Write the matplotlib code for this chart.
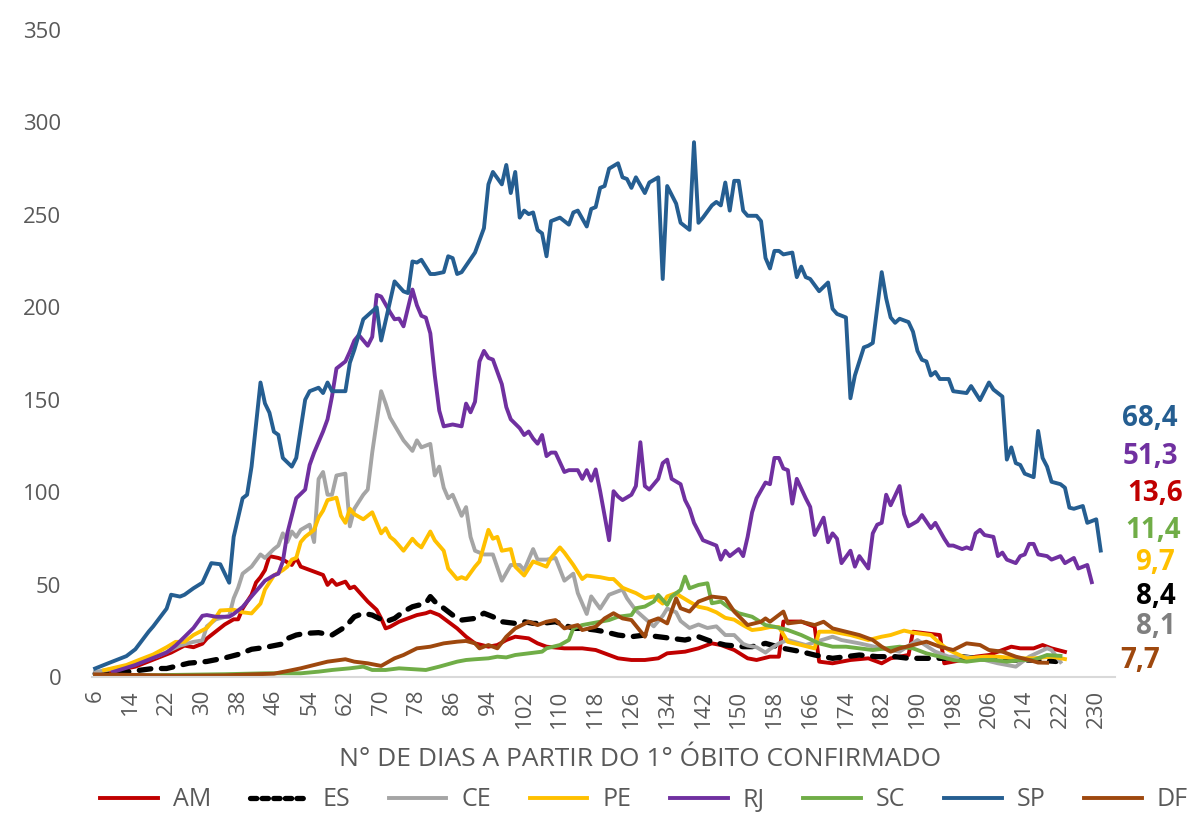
import numpy as np
import matplotlib
matplotlib.use("Agg")
import matplotlib.pyplot as plt
from matplotlib.lines import Line2D

plt.rcParams['font.family'] = ['Open Sans', 'DejaVu Sans']

# (dia, media movel de obitos)
am = [(9,2.7),(15,5.6),(19,9.4),(23,13.2),(26,17),(28,16.1),(30,18),(31,20.8),(33,24.6),(35,28.4),(37,31.2),(38,31.2),
      (39,37),(41,44.5),(42,51.1),(43,54),(44,57.8),(45,65.4),(47,64.4),(48,63.5),(50,60.6),(51,64.4),(52,59.7),(55,57),
      (57,55.2),(58,49.8),(59,52.5),(60,49.8),(62,51.6),(63,48),(64,48.9),(66,43.5),(67,40.8),(69,36.3),(70,31.7),(71,26.3),
      (72,27.2),(74,29.9),(76,31.7),(78,33.5),(80,34.5),(81,35.4),(83,33.5),(85,29.9),(87,26.3),(89,21.8),(91,18.2),(94,16.4),
      (96,17.3),(98,20),(100,21.8),(103,20.9),(105,18.2),(107,16.4),(111,15.5),(115,15.5),(118,14.6),(121,11.9),(123,10.1),
      (126,9.2),(129,9.2),(132,10.1),(134,12.8),(138,13.7),(141,15.5),(144,18.2),(146,17.3),(149,14.6),(152,10.1),(154,9.2),
      (157,11),(159,11),(160,30),(164,30),(167,27.2),(168,8.3),(171,7.4),(175,9.2),(179,10.1),(182,7.4),(184,10.1),(186,11),
      (188,11.9),(189,24.5),(192,23.6),(195,22.7),(196,7.4),(200,9.2),(203,11),(206,11.9),(208,13.7),(211,16.4),(213,15.5),
      (216,15.5),(218,17.3),(220,15.5),(223,13.6)]

es = [(6,1.8),(13,2.7),(19,4.6),(22,4.6),(27,7.5),(31,8.4),(35,10.3),(38,12.2),(41,15),(44,16),(48,17.9),(49,20.8),(51,22.7),
      (53,23.6),(56,24),(59,22.7),(62,27.2),(64,32.6),(66,34.5),(68,33.5),(71,29.9),(73,31.7),(75,35.4),(77,38),(80,39.9),
      (81,43.5),(82,40.8),(84,37.2),(86,33.5),(88,30.8),(91,31.7),(93,34.5),(95,32.6),(97,29.9),(100,29),(102,29.9),(104,29),
      (106,29),(109,29.9),(111,28.1),(113,26.3),(115,26.3),(118,25.4),(120,24.5),(123,22.7),(126,21.8),(129,22.7),(132,21.8),
      (135,20.9),(138,20),(141,21.8),(144,19.1),(147,17.3),(151,16.4),(153,16.4),(156,18.2),(160,15.5),(164,13.7),(167,11.9),
      (171,10.1),(174,11),(177,11.9),(181,11),(185,11),(188,10.1),(192,10.1),(196,10.1),(200,11),(203,10.1),(207,10.1),
      (211,9.2),(214,9.2),(218,9),(221,8.4)]

ce = [(6,2.7),(13,5.6),(16,8.4),(20,11.3),(25,17),(28,19),(30,19.8),(31,27.4),(33,31.2),(36,33.1),(37,42.6),(38,48.3),
      (39,55.9),(41,59.7),(43,66.3),(44,64.4),(46,69.2),(47,71.1),(48,77.7),(49,73),(50,78.7),(51,75.8),(52,79.6),(54,82.4),
      (55,73),(56,107.1),(57,110.9),(58,98.6),(59,98.6),(60,109),(62,110),(63,81.5),(64,91),(66,98.6),(67,101.4),(68,121.4),
      (70,154.6),(71,147.9),(72,140.3),(75,128),(77,122.3),(78,128),(79,124.2),(81,126.1),(82,109),(83,113.8),(84,102.4),
      (85,96.7),(86,98.6),(88,87.2),(89,91.9),(90,75.8),(91,68.3),(93,66.3),(95,66.3),(97,52.1),(99,60.6),(101,60.6),
      (102,57.8),(104,69.2),(105,63.5),(107,63.5),(109,64.4),(111,52.1),(113,55.9),(114,45.4),(116,34.1),(117,43.6),(119,37),
      (121,44.5),(124,47.3),(125,42.6),(127,36),(131,27.4),(133,33.1),(134,37),(136,35),(137,30.3),(139,26.5),(141,28.4),
      (143,26.5),(145,27.4),(147,22.7),(149,22.7),(151,17.9),(152,17),(154,16.1),(156,13.2),(157,15.1),(159,18.2),(161,20),
      (165,17.3),(171,21.8),(173,20),(177,18.2),(182,15.5),(186,13.7),(190,20),(194,13.7),(197,11),(201,11),(205,9.2),
      (208,7.4),(212,5.6),(215,11),(219,15.5),(220,14.6),(222,8.1)]

pe = [(8,3.7),(13,6.5),(16,9.4),(19,12.2),(22,16.1),(24,19),(26,19),(28,22.7),(31,26.5),(33,32.2),(34,36),(37,36.4),
      (39,35),(41,34.4),(43,39.7),(44,47.3),(46,54.9),(48,57.8),(49,59.7),(50,63.5),(51,64.4),(52,73),(53,75.8),(55,79.6),
      (56,86.2),(57,90),(58,95.7),(60,97),(61,87.2),(62,83.4),(63,91),(64,88.1),(66,85.3),(68,89.1),(70,77.7),(71,80.5),
      (72,75.8),(73,73.9),(75,68.3),(77,74.8),(78,72),(79,70.1),(81,78.7),(82,73.9),(84,68.3),(85,58.7),(87,53),(88,54),
      (89,53),(91,59.7),(92,62.5),(94,79.6),(95,74.8),(96,75.8),(97,68.3),(99,69.2),(100,59.7),(102,54.9),(104,62.5),
      (107,59.7),(108,64.4),(110,70.1),(111,67.3),(113,60.6),(115,53),(116,54.9),(119,54),(121,53),(122,53),(124,48.3),
      (125,47.3),(127,45.4),(129,42.6),(131,43.6),(133,39.7),(134,43.6),(136,45.4),(137,43.6),(139,40.7),(141,38),(143,37),
      (145,35),(147,32),(149,31),(151,28),(153,25.4),(155,26),(157,27),(159,27),(161,19),(164,17.3),(167,15.5),(168,24.5),
      (171,24.5),(175,22.7),(179,20),(182,21.8),(184,22.7),(187,25.1),(189,24),(193,22.7),(195,18.2),(197,14.6),(201,10.1),
      (205,11),(208,11),(212,10.1),(216,10.1),(220,11),(223,9.7)]

rj = [(10,2.7),(15,6.5),(19,10.3),(22,13.2),(24,17),(26,21.7),(28,26.5),(30,33.1),(31,33.5),(33,32.6),(36,32.6),(37,34.1),
      (39,37.9),(41,43.6),(43,49.2),(44,52.1),(46,55),(47,55.9),(48,62.5),(49,77.7),(51,96.7),(53,101.4),(54,114.7),
      (55,121.4),(57,132.8),(58,139.4),(59,151.8),(60,166.9),(62,170.7),(63,176),(64,182),(65,185),(67,179.2),(68,184),
      (69,206.7),(70,205.8),(72,197.3),(73,193.5),(74,193.9),(75,189.7),(77,209.6),(78,201.1),(79,195.4),(80,194.4),
      (81,185.9),(82,163.1),(83,144.1),(84,135.6),(86,136.6),(88,135.6),(89,147.9),(90,143.2),(91,148.9),(92,170.7),
      (93,176.4),(94,172.6),(95,171.7),(97,158.4),(98,146),(99,139.4),(101,134.6),(102,130.9),(103,132.8),(104,129),
      (105,126.2),(106,130.9),(107,119.5),(108,121.4),(109,121.4),(111,110.9),(112,111.9),(114,111.9),(115,107.2),(116,111.9),
      (117,106.2),(118,112.3),(119,100.5),(121,74),(122,100.5),(123,97.6),(124,95.7),(126,98.6),(127,103.3),(128,127),
      (129,103.3),(130,101.4),(132,107.2),(133,115.7),(134,117.6),(135,107.2),(137,104.3),(138,95.7),(139,91),(140,83.4),
      (142,74),(145,71.1),(146,63.5),(147,68.3),(148,65.4),(150,69.2),(151,65.4),(152,75.8),(153,89.1),(154,96.7),(156,105.2),
      (157,104.3),(158,118.5),(159,118.5),(160,112.8),(161,111.9),(162,93.8),(163,107.2),(165,96.7),(166,92),(167,76.8),
      (169,86.2),(170,72.9),(171,77.7),(172,74.8),(173,61.6),(175,68.3),(176,59.7),(177,65.4),(179,58.7),(180,77.7),
      (181,82.4),(182,83.4),(183,98.6),(184,92.9),(186,103.3),(187,88.1),(188,81.5),(190,84.3),(191,87.6),(193,80.5),
      (194,83.4),(196,74.8),(197,71.1),(198,71.1),(200,69.2),(201,70.1),(202,69.2),(203,77.7),(204,79.6),(205,76.8),
      (207,75.8),(208,65.4),(209,67.3),(210,63.5),(212,61.6),(213,65.4),(214,66.3),(215,72),(216,72),(217,66.3),(219,65.4),
      (220,63.5),(222,65.4),(223,61.6),(225,64.4),(226,58.7),(228,60.6),(229,51.3)]

sc = [(6,0.8),(20,1),(35,1.5),(44,2),(52,2),(56,2.9),(59,3.8),(63,4.7),(66,5.6),(68,3.8),(71,3.8),(74,4.7),(78,4.1),
      (80,3.8),(83,5.6),(87,8.3),(89,9.2),(91,9.6),(94,10.1),(96,11),(98,10.6),(100,11.9),(103,12.8),(106,13.7),(107,15.5),
      (110,17.3),(112,20),(113,26.3),(115,28.1),(117,29),(119,29.9),(121,30.8),(123,32.6),(126,33.5),(127,37.2),(129,38.1),
      (131,40.8),(132,44.4),(134,39),(135,43.5),(137,47.1),(138,54.3),(139,48),(141,49.8),(143,50.7),(144,39.9),(146,40.8),
      (148,37.2),(150,34.5),(153,32.6),(156,28.1),(158,27.2),(161,25.4),(164,22.7),(168,18.2),(171,16.4),(174,16.4),
      (177,15.5),(180,14.6),(183,15.5),(186,16.4),(189,15.5),(192,12.8),(195,11),(198,9.2),(201,8.3),(204,9.2),(207,9.2),
      (210,8.3),(213,9.2),(216,9.2),(219,11.9),(222,11.4)]

sp = [(6,4.6),(9,7.5),(13,11.3),(15,15),(18,24.6),(19,27.4),(22,37),(23,44.5),(25,43.5),(26,44.5),(28,48),(30,51),
      (32,61.6),(34,61),(36,51),(37,75.8),(39,96.7),(40,98.6),(41,113.8),(43,159.3),(44,148),(45,143),(46,132.7),(47,131),
      (48,118.5),(50,113.8),(51,118.5),(53,150),(54,154.6),(56,156.5),(57,153.6),(58,159.3),(59,154.6),(62,154.6),(63,170),
      (64,177),(66,193.5),(69,200),(70,182),(73,214),(75,208.6),(76,207.7),(77,224.8),(78,224.2),(79,225.7),(81,218),
      (82,218),(84,219),(85,227.6),(86,226.6),(87,218),(88,219),(91,229.6),(93,242.8),(94,266.5),(95,273.2),(97,266.5),
      (98,277),(99,261.8),(100,273.2),(101,248.5),(102,252.3),(103,250.4),(104,251.3),(105,241.8),(106,240),(107,227.6),
      (108,246.6),(110,248.5),(112,244.7),(113,251.3),(114,252.3),(116,243.7),(117,253.2),(118,254.2),(119,264.6),
      (120,265.6),(121,275),(123,277.9),(124,270.3),(125,269.4),(126,264.6),(127,270.3),(129,261.8),(130,267.5),(132,270.3),
      (133,215.3),(134,265.6),(136,256.1),(137,245.7),(139,241.9),(140,289.3),(141,245.7),(142,248.5),(144,255.1),(145,257),
      (146,255.1),(147,267.5),(148,252.3),(149,268.4),(150,268.4),(151,252.3),(152,249.5),(154,249.5),(155,246.6),
      (156,226.7),(157,221),(158,230.5),(159,230.5),(160,228.6),(162,229.6),(163,216.3),(164,222),(165,216.3),(166,215.3),
      (168,208.7),(170,213.4),(171,199.2),(172,196.4),(174,194.5),(175,150.8),(176,163.1),(178,178.3),(179,179.2),
      (180,180.7),(182,219),(183,204.8),(184,194.5),(185,191.6),(186,193.8),(188,192),(189,186.8),(190,176.4),(191,171.6),
      (192,170.7),(193,163.1),(194,165),(195,161.2),(197,161.2),(198,154.6),(201,153.6),(202,157.4),(204,149.8),(206,159.3),
      (207,155.5),(209,151.7),(210,117.6),(211,124.2),(212,115.7),(213,114.7),(214,110),(216,108.1),(217,133.1),(218,118.5),
      (219,113.8),(220,105.6),(222,104.3),(223,102.4),(224,91.6),(225,91),(227,92.5),(228,83.4),(230,85.3),(231,68.4)]

df = [(6,1.4),(13,1.2),(24,0.7),(35,0.9),(46,1.8),(50,3.7),(52,4.7),(55,6.5),(58,8.3),(62,9.6),(64,8.3),(67,7.4),(70,6),
      (73,10.1),(75,11.9),(78,15.5),(81,16.4),(84,18.2),(87,19.1),(89,19.5),(91,18.2),(92,15.5),(94,17.3),(96,15.5),
      (98,21.8),(100,26.3),(103,29.9),(105,28.1),(107,29.9),(109,30.8),(111,26.3),(114,28.1),(115,25.4),(118,27.2),
      (120,31.7),(122,34.5),(124,31.7),(126,30.8),(129,21.8),(130,29.9),(132,31.7),(134,29),(136,42.6),(137,37.2),
      (139,35.4),(141,40.8),(144,43.5),(147,42.6),(149,35.4),(152,28.1),(155,29.9),(156,31.7),(157,29.9),(160,35.4),
      (161,29),(164,29.9),(167,28.1),(169,29.9),(171,26.3),(174,24.5),(177,22.7),(180,20),(182,16.4),(184,13.7),(186,15.5),
      (189,17.3),(192,19.1),(195,16.4),(198,14.6),(201,18.2),(204,17.3),(206,14.6),(209,13.7),(212,11),(215,9.2),
      (217,7.8),(219,7.7)]

names = ['AM', 'ES', 'CE', 'PE', 'RJ', 'SC', 'SP', 'DF']
series = [am, es, ce, pe, rj, sc, sp, df]
colors = ['#C00000', '#000000', '#A5A5A5', '#FFC000', '#7030A0', '#70AD47', '#255E91', '#9E480E']
last_labels = ['13,6', '8,4', '8,1', '9,7', '51,3', '11,4', '68,4', '7,7']
xticks = list(range(6, 231, 8))

W, H = 1190, 814
fig = plt.figure(figsize=(W / 100, H / 100), dpi=100)
ax = fig.add_axes([92 / W, 1 - 677 / H, (1115 - 92) / W, (677 - 30) / H])

for name, data, c in zip(names, series, colors):
    d = np.array(data)
    if name == 'ES':
        ax.plot(d[:, 0], d[:, 1], color=c, lw=3.8, dashes=(2.2, 2.0),
                dash_capstyle='round', solid_capstyle='round')
    else:
        ax.plot(d[:, 0], d[:, 1], color=c, lw=2.8, solid_joinstyle='round')

ax.set_xlim(5.3, 234.2)
ax.set_ylim(0, 350)
ax.set_yticks(range(0, 351, 50))
ax.set_xticks(xticks)
ax.set_xticklabels([str(v) for v in xticks], rotation=90)
ax.tick_params(axis='y', length=0, pad=22, labelsize=16, labelcolor='#595959')
ax.tick_params(axis='x', length=0, pad=9, labelsize=16, labelcolor='#595959')
for s in ['top', 'right', 'left']:
    ax.spines[s].set_visible(False)
ax.spines['bottom'].set_color('#D9D9D9')
ax.spines['bottom'].set_linewidth(1.5)

fig.text(640 / W, 1 - 760 / H, 'N° DE DIAS A PARTIR DO 1° ÓBITO CONFIRMADO',
         ha='center', va='center', fontsize=19, color='#595959')

# valores finais a direita
label_pos = {'SP': (1150, 418), 'RJ': (1150, 457), 'AM': (1155, 493), 'SC': (1153, 530),
             'PE': (1155, 562), 'ES': (1156, 596), 'CE': (1156, 627), 'DF': (1140, 660)}
for name, lab, c in zip(names, last_labels, colors):
    x, y = label_pos[name]
    tc = '#7F7F7F' if name == 'CE' else c
    fig.text(x / W, 1 - y / H, lab, ha='center', va='center', fontsize=20,
             fontweight='bold', color=tc)

leg_handles = []
for name, c in zip(names, colors):
    if name == 'ES':
        leg_handles.append(Line2D([], [], color=c, lw=3.8, dashes=(1.2, 1.0), dash_capstyle='round'))
    else:
        leg_handles.append(Line2D([], [], color=c, lw=2.8))
fig.legend(leg_handles, names, loc='center', bbox_to_anchor=(644 / W, 1 - 800 / H), ncol=8,
           frameon=False, fontsize=18, handlelength=2.3, columnspacing=1.55, handletextpad=0.6,
           labelcolor='#595959', borderpad=0.1)

fig.savefig('out.png', dpi=100)
